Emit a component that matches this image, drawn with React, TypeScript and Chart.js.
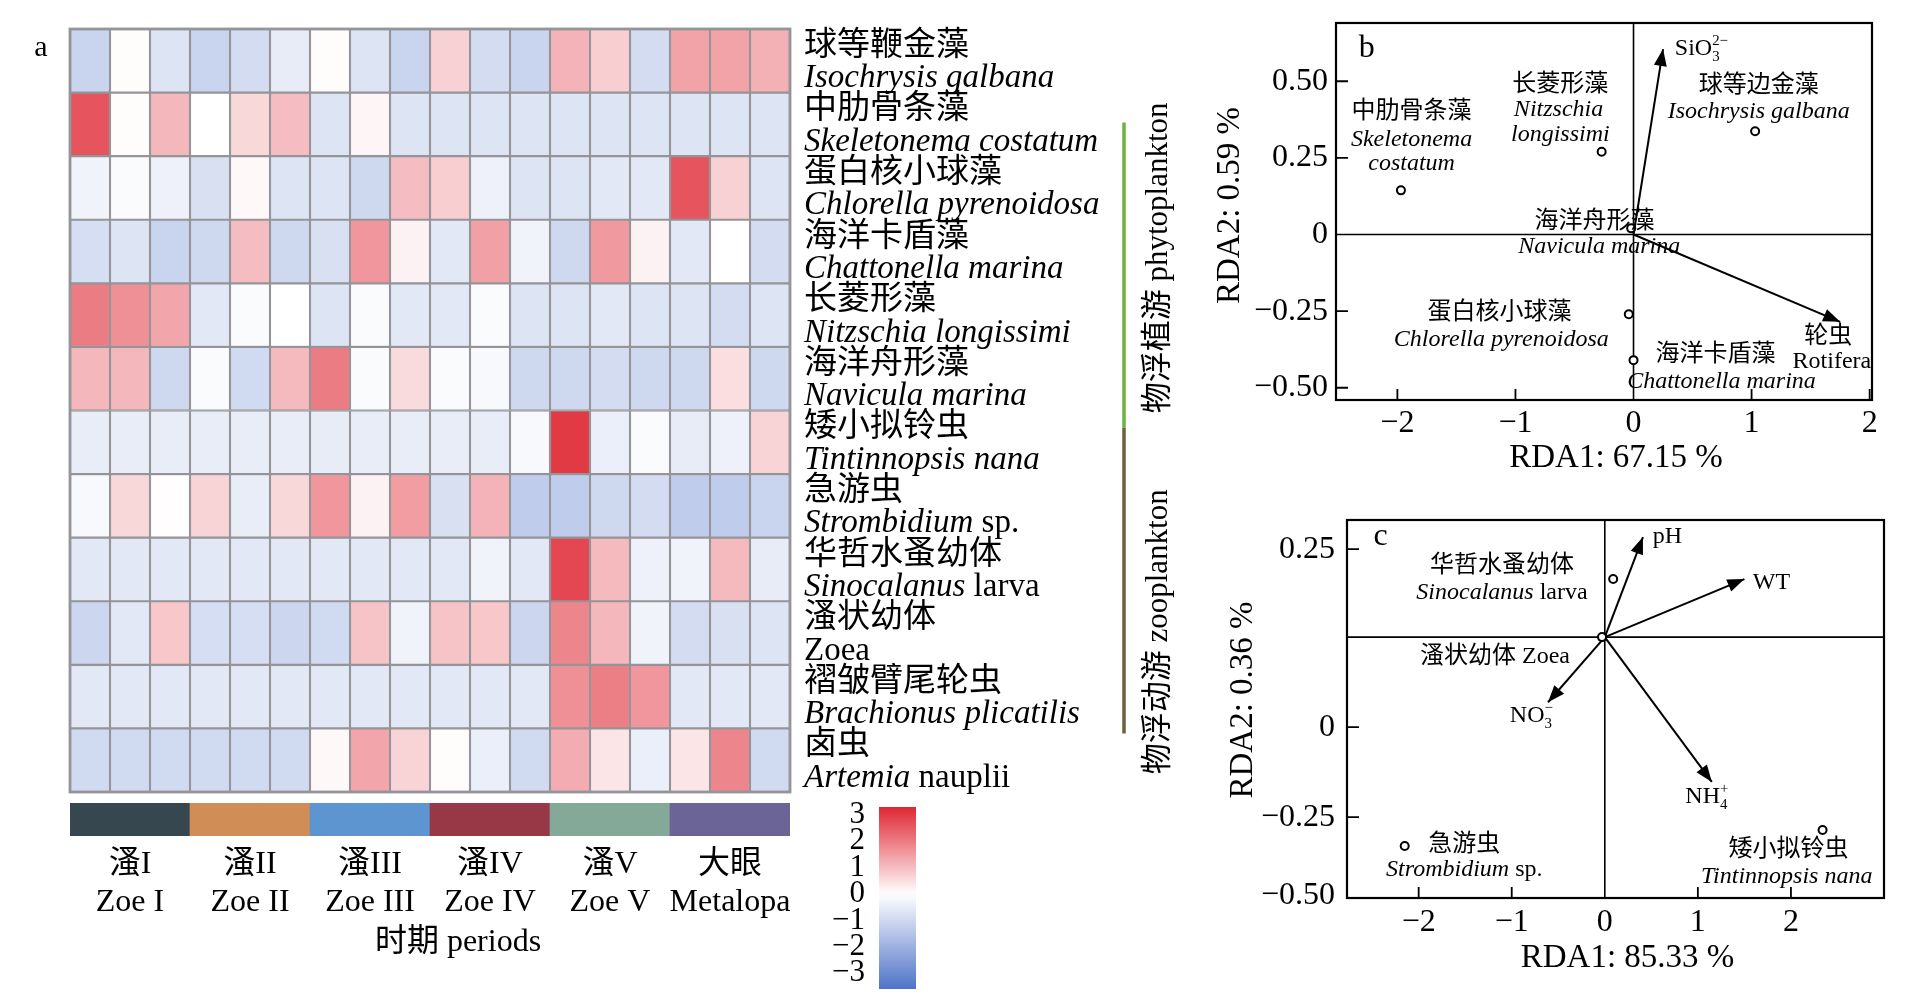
import React, { useEffect, useRef } from "react";
import { Chart, registerables } from "chart.js";

Chart.register(...registerables);

type Seg = [string, boolean]; // [text, italic]

const SERIF = '"Liberation Serif", "Noto Sans CJK SC", serif';

// ---------------- panel a : heatmap ----------------
const periodsCn = ["溞I", "溞II", "溞III", "溞IV", "溞V", "大眼"];
const periodsEn = ["Zoe I", "Zoe II", "Zoe III", "Zoe IV", "Zoe V", "Metalopa"];
const replicates = ["1", "2", "3"];
const periodColors = ["#37474f", "#d18d56", "#5d95d0", "#983846", "#85a998", "#6b6496"];
const periodAxisTitle = "时期 periods";

const speciesCn = [
  "球等鞭金藻", "中肋骨条藻", "蛋白核小球藻", "海洋卡盾藻", "长菱形藻", "海洋舟形藻",
  "矮小拟铃虫", "急游虫", "华哲水蚤幼体", "溞状幼体", "褶皱臂尾轮虫", "卤虫",
];
const speciesLatin: Seg[][] = [
  [["Isochrysis galbana", true]],
  [["Skeletonema costatum", true]],
  [["Chlorella pyrenoidosa", true]],
  [["Chattonella marina", true]],
  [["Nitzschia longissimi", true]],
  [["Navicula marina", true]],
  [["Tintinnopsis nana", true]],
  [["Strombidium", true], [" sp.", false]],
  [["Sinocalanus", true], [" larva", false]],
  [["Zoea", false]],
  [["Brachionus plicatilis", true]],
  [["Artemia", true], [" nauplii", false]],
];
const groupLabels = ["物浮植游 phytoplankton", "物浮动游 zooplankton"];
const groupColors = ["#6cb33f", "#6e5f3e"];

// z-scores, 18 samples (6 periods x 3 replicates) per species
const zIsochrysis = [-1.1, 0.05, -0.7, -1.1, -0.9, -0.5, 0.05, -0.7, -1.1, 0.7, -0.9, -1.1, 1.15, 0.75, -0.9, 1.4, 1.4, 1.2];
const zSkeletonema = [2.6, 0.05, 1.1, 0.0, 0.6, 1.0, -0.7, 0.15, -0.7, -0.7, -0.7, -0.7, -0.7, -0.7, -0.7, -0.7, -0.7, -0.7];
const zChlorella = [-0.3, -0.1, -0.35, -0.8, 0.1, -0.7, -0.7, -1.0, 1.0, 0.75, -0.35, -0.7, -0.7, -0.6, -0.6, 2.6, 0.7, -0.7];
const zChattonella = [-0.85, -0.7, -1.1, -1.0, 1.0, -1.0, -0.8, 1.6, 0.2, -0.6, 1.45, -0.3, -1.0, 1.55, 0.2, -0.6, 0.0, -0.9];
const zNitzschia = [2.0, 1.7, 1.35, -0.6, -0.1, 0.0, -0.7, -0.1, -0.6, -0.6, -0.1, -0.7, -0.7, -0.6, -0.7, -0.7, -0.9, -0.7];
const zNavicula = [1.1, 1.1, -1.0, -0.1, -0.95, 1.05, 2.0, -0.1, 0.55, -0.1, -0.15, -1.0, -1.0, -0.9, -1.0, -1.0, 0.5, -1.0];
const zTintinnopsis = [-0.45, -0.45, -0.45, -0.45, -0.45, -0.45, -0.5, -0.45, -0.45, -0.45, -0.45, -0.15, 3.0, -0.4, -0.1, -0.5, -0.35, 0.65];
const zStrombidium = [-0.15, 0.6, 0.03, 0.65, -0.45, 0.6, 1.6, 0.2, 1.5, -0.8, 1.15, -1.3, -1.3, -1.0, -0.9, -1.3, -1.3, -1.1];
const zSinocalanus = [-0.6, -0.6, -0.6, -0.6, -0.6, -0.6, -0.6, -0.6, -0.6, -0.6, -0.3, -0.6, 2.8, 1.05, -0.35, -0.3, 1.05, -0.5];
const zZoea = [-1.05, -0.6, 0.85, -0.85, -0.85, -1.05, -0.95, 0.9, -0.3, 0.9, 0.85, -1.05, 1.85, 1.1, -0.3, -0.9, -0.8, -0.7];
const zBrachionus = [-0.6, -0.6, -0.6, -0.6, -0.6, -0.6, -0.6, -0.6, -0.6, -0.6, -0.6, -0.6, 1.7, 1.95, 1.6, -0.6, -0.6, -0.6];
const zArtemia = [-0.95, -0.95, -0.95, -0.95, -0.95, -0.95, 0.1, 1.35, 0.65, 0.05, -0.4, -0.95, 1.25, 0.4, -0.4, 0.4, 1.85, -0.95];
const zRows = [zIsochrysis, zSkeletonema, zChlorella, zChattonella, zNitzschia, zNavicula,
  zTintinnopsis, zStrombidium, zSinocalanus, zZoea, zBrachionus, zArtemia];

const colorbarTicks = [3, 2, 1, 0, -1, -2, -3];
const colorbarRange = [-3.6, 3.3];

// ---------------- panel b : phytoplankton RDA ----------------
const bPointsX = [-1.97, -0.27, 1.03, -0.02, -0.04, 0.0];
const bPointsY = [0.144, 0.27, 0.337, 0.02, -0.26, -0.41];
const bArrowX = [0.25, 1.75];
const bArrowY = [0.605, -0.285];
const bXTicks = [-2, -1, 0, 1, 2];
const bYTicks = [0.5, 0.25, 0, -0.25, -0.5];
const bYTickLabels = ["0.50", "0.25", "0", "−0.25", "−0.50"];
const bXTitle = "RDA1: 67.15 %";
const bYTitle = "RDA2: 0.59 %";

// ---------------- panel c : zooplankton RDA ----------------
const cPointsX = [0.09, -0.03, -2.15, 2.34];
const cPointsY = [0.163, 0.0, -0.587, -0.542];
const cArrowX = [0.41, 1.5, -0.61, 1.15];
const cArrowY = [0.281, 0.163, -0.183, -0.407];
const cXTicks = [-2, -1, 0, 1, 2];
const cYTicks = [0.247, -0.253, -0.506, -0.725];
const cYTickLabels = ["0.25", "0", "−0.25", "−0.50"];
const cXTitle = "RDA1: 85.33 %";
const cYTitle = "RDA2: 0.36 %";

// ---------------- helpers ----------------
const font = (size: number, italic = false) => `${italic ? "italic " : ""}${size}px ${SERIF}`;

function heatColor(v: number, extend = false): string {
  const lo = extend ? colorbarRange[0] : -3;
  const hi = extend ? colorbarRange[1] : 3;
  const t = Math.max(lo, Math.min(hi, v)) / 3;
  let r: number, g: number, b: number;
  if (t >= 0) {
    r = 255 - t * (255 - 226); g = 255 - t * (255 - 58); b = 255 - t * (255 - 69);
  } else {
    const s = -t;
    r = 255 - s * (255 - 108); g = 255 - s * (255 - 138); b = 255 - s * (255 - 208);
  }
  const c = (n: number) => Math.round(Math.max(0, Math.min(255, n)));
  return `rgb(${c(r)},${c(g)},${c(b)})`;
}

function drawSegs(ctx: CanvasRenderingContext2D, segs: Seg[], x: number, y: number, size: number,
  align: "left" | "center" | "right" = "center") {
  ctx.textBaseline = "middle";
  ctx.textAlign = "left";
  const widths = segs.map(([t, it]) => { ctx.font = font(size, it); return ctx.measureText(t).width; });
  const total = widths.reduce((s, w) => s + w, 0);
  let cx = align === "center" ? x - total / 2 : align === "right" ? x - total : x;
  segs.forEach(([t, it], i) => { ctx.font = font(size, it); ctx.fillText(t, cx, y); cx += widths[i]; });
}

function drawChem(ctx: CanvasRenderingContext2D, base: string, sub: string, sup: string,
  x: number, y: number, size: number) {
  ctx.textBaseline = "middle";
  ctx.textAlign = "left";
  ctx.font = font(size);
  ctx.fillText(base, x, y);
  const w = ctx.measureText(base).width;
  ctx.font = font(size * 0.62);
  ctx.fillText(sup, x + w, y - size * 0.33);
  ctx.fillText(sub, x + w, y + size * 0.33);
}

function drawRotated(ctx: CanvasRenderingContext2D, text: string, x: number, y: number, size: number) {
  ctx.save();
  ctx.translate(x, y);
  ctx.rotate(-Math.PI / 2);
  drawSegs(ctx, [[text, false]], 0, 0, size, "center");
  ctx.restore();
}

const baseOptions = (padding: any) => ({
  animation: false,
  responsive: false,
  events: [],
  layout: { padding },
  plugins: { legend: { display: false }, tooltip: { enabled: false } },
});

// ---------------- chart configs ----------------
const sampleLabels = periodsEn.flatMap((p) => replicates.map((r) => `${p}-${r}`));

const heatPlugin = {
  id: "heatLabels",
  afterDatasetsDraw(chart: any) {
    const { ctx, chartArea: a, scales: { y } } = chart;
    ctx.save();
    ctx.strokeStyle = "#959599";
    ctx.lineWidth = 2.8;
    ctx.strokeRect(a.left, a.top, a.right - a.left, a.bottom - a.top);
    ctx.fillStyle = "#000";
    speciesCn.forEach((cn, r) => {
      drawSegs(ctx, [[cn, false]], a.right + 14, y.getPixelForValue(r + 0.27), 33, "left");
      drawSegs(ctx, speciesLatin[r], a.right + 14, y.getPixelForValue(r + 0.78), 33, "left");
    });
    // group brackets
    const lx = a.right + 334;
    const spans = [[1.47, 6.27], [6.27, 11.08]];
    const centers = [3.6, 9.48];
    spans.forEach(([f, t], i) => {
      ctx.strokeStyle = groupColors[i];
      ctx.lineWidth = 3.5;
      ctx.beginPath();
      ctx.moveTo(lx, y.getPixelForValue(f));
      ctx.lineTo(lx, y.getPixelForValue(t));
      ctx.stroke();
      ctx.fillStyle = "#000";
      drawRotated(ctx, groupLabels[i], a.right + 369, y.getPixelForValue(centers[i]), 31);
    });
    ctx.fillStyle = "#000";
    drawSegs(ctx, [["a", false]], a.left - 29, a.top + 19, 30, "center");
    ctx.restore();
  },
};

const heatConfig = () => ({
  type: "bar",
  data: {
    labels: sampleLabels,
    datasets: zRows.map((row, r) => ({
      label: speciesCn[r],
      data: row.map(() => [r, r + 1]),
      backgroundColor: row.map((v) => heatColor(v)),
      borderColor: "#959599",
      borderWidth: 1.4,
      borderSkipped: false,
      grouped: false,
      categoryPercentage: 1,
      barPercentage: 1,
    })),
  },
  options: {
    ...baseOptions({ left: 70, top: 29, right: 410, bottom: 8 }),
    scales: {
      x: { display: false },
      y: { display: false, min: 0, max: speciesCn.length, reverse: true },
    },
  },
  plugins: [heatPlugin],
});

const periodPlugin = {
  id: "periodLabels",
  afterDatasetsDraw(chart: any) {
    const { ctx, chartArea: a, scales: { x } } = chart;
    ctx.save();
    ctx.fillStyle = "#000";
    periodsCn.forEach((cn, i) => {
      const px = x.getPixelForValue(i);
      drawSegs(ctx, [[cn, false]], px, a.bottom + 29, 32);
      drawSegs(ctx, [[periodsEn[i], false]], px, a.bottom + 67, 32);
    });
    drawSegs(ctx, [[periodAxisTitle, false]], (a.left + a.right) / 2 + 28, a.bottom + 107, 32);
    ctx.restore();
  },
};

const periodConfig = () => ({
  type: "bar",
  data: {
    labels: periodsEn,
    datasets: [{
      data: periodsEn.map(() => [0, 1]),
      backgroundColor: periodColors,
      borderWidth: 0,
      categoryPercentage: 1,
      barPercentage: 1,
    }],
  },
  options: {
    ...baseOptions({ left: 70, top: 3, right: 210, bottom: 134 }),
    scales: { x: { display: false }, y: { display: false, min: 0, max: 1 } },
  },
  plugins: [periodPlugin],
});

const colorbarPlugin = {
  id: "colorbarLabels",
  afterDatasetsDraw(chart: any) {
    const { ctx, chartArea: a, scales: { y } } = chart;
    ctx.save();
    ctx.fillStyle = "#000";
    colorbarTicks.forEach((v) => {
      const lab = v < 0 ? `−${Math.abs(v)}` : `${v}`;
      drawSegs(ctx, [[lab, false]], a.left - 14, y.getPixelForValue(v), 31, "right");
    });
    ctx.restore();
  },
};

const colorbarConfig = () => ({
  type: "bar",
  data: {
    labels: ["z"],
    datasets: [{
      data: [colorbarRange],
      backgroundColor: (c: any) => {
        const chart = c.chart;
        const a = chart.chartArea;
        if (!a) return "#fff";
        const g = chart.ctx.createLinearGradient(0, a.bottom, 0, a.top);
        const [lo, hi] = colorbarRange;
        for (let i = 0; i <= 30; i++) g.addColorStop(i / 30, heatColor(lo + ((hi - lo) * i) / 30, true));
        return g;
      },
      borderWidth: 0,
      categoryPercentage: 1,
      barPercentage: 1,
    }],
  },
  options: {
    ...baseOptions({ left: 59, top: 17, right: 34, bottom: 11 }),
    scales: { x: { display: false }, y: { display: false, min: colorbarRange[0], max: colorbarRange[1] } },
  },
  plugins: [colorbarPlugin],
});

// ---------------- RDA ----------------
type Note = { x: number; y: number; segs: Seg[]; size?: number; align?: "left" | "center" | "right" };
type Chem = { x: number; y: number; base: string; sub: string; sup: string };

const bNotes: Note[] = [
  { x: -2.26, y: 0.605, segs: [["b", false]], size: 32 },
  { x: -1.88, y: 0.4, segs: [["中肋骨条藻", false]] },
  { x: -1.88, y: 0.31, segs: [["Skeletonema", true]] },
  { x: -1.88, y: 0.232, segs: [["costatum", true]] },
  { x: -0.62, y: 0.49, segs: [["长菱形藻", false]] },
  { x: -0.635, y: 0.408, segs: [["Nitzschia", true]] },
  { x: -0.62, y: 0.327, segs: [["longissimi", true]] },
  { x: 1.06, y: 0.484, segs: [["球等边金藻", false]] },
  { x: 1.06, y: 0.4, segs: [["Isochrysis galbana", true]] },
  { x: -0.33, y: 0.042, segs: [["海洋舟形藻", false]] },
  { x: -0.29, y: -0.04, segs: [["Navicula marina", true]] },
  { x: -1.135, y: -0.255, segs: [["蛋白核小球藻", false]] },
  { x: -1.12, y: -0.343, segs: [["Chlorella pyrenoidosa", true]] },
  { x: 0.695, y: -0.392, segs: [["海洋卡盾藻", false]] },
  { x: 0.745, y: -0.48, segs: [["Chattonella marina", true]] },
  { x: 1.65, y: -0.333, segs: [["轮虫", false]] },
  { x: 1.68, y: -0.415, segs: [["Rotifera", false]] },
];
const bChems: Chem[] = [{ x: 0.35, y: 0.605, base: "SiO", sub: "3", sup: "2−" }];

const cNotes: Note[] = [
  { x: -2.41, y: 0.281, segs: [["c", false]], size: 32 },
  { x: 0.515, y: 0.281, segs: [["pH", false]], align: "left" },
  { x: 1.59, y: 0.152, segs: [["WT", false]], align: "left" },
  { x: -1.105, y: 0.202, segs: [["华哲水蚤幼体", false]] },
  { x: -1.105, y: 0.126, segs: [["Sinocalanus", true], [" larva", false]] },
  { x: -1.18, y: -0.056, segs: [["溞状幼体 Zoea", false]] },
  { x: -1.51, y: -0.584, segs: [["急游虫", false]] },
  { x: -1.51, y: -0.654, segs: [["Strombidium", true], [" sp.", false]] },
  { x: 1.975, y: -0.598, segs: [["矮小拟铃虫", false]] },
  { x: 1.955, y: -0.674, segs: [["Tintinnopsis nana", true]] },
];
const cChems: Chem[] = [
  { x: -1.02, y: -0.222, base: "NO", sub: "3", sup: "−" },
  { x: 0.865, y: -0.449, base: "NH", sub: "4", sup: "+" },
];

type Rda = {
  id: string; px: number[]; py: number[]; ax: number[]; ay: number[];
  xTicks: number[]; yTicks: number[]; yLabels: string[]; xTitle: string; yTitle: string;
  xMin: number; xMax: number; yMin: number; yMax: number;
  notes: Note[]; chems: Chem[]; padding: any;
  gaps: { yLab: number; xLab: number; xTitle: number; yTitle: number; yShift: number };
};

function rdaPlugin(p: Rda) {
  return {
    id: "rda" + p.id,
    beforeDatasetsDraw(chart: any) {
      const { ctx, chartArea: a, scales: { x, y } } = chart;
      ctx.save();
      ctx.strokeStyle = "#000";
      ctx.lineWidth = 1.6;
      const x0 = x.getPixelForValue(0);
      const y0 = y.getPixelForValue(0);
      ctx.beginPath();
      ctx.moveTo(x0, a.top); ctx.lineTo(x0, a.bottom);
      ctx.moveTo(a.left, y0); ctx.lineTo(a.right, y0);
      ctx.stroke();
      ctx.restore();
    },
    afterDatasetsDraw(chart: any) {
      const { ctx, chartArea: a, scales: { x, y } } = chart;
      ctx.save();
      ctx.strokeStyle = "#000";
      ctx.fillStyle = "#000";
      ctx.lineWidth = 2.2;
      ctx.strokeRect(a.left, a.top, a.right - a.left, a.bottom - a.top);
      // inward ticks
      ctx.lineWidth = 1.8;
      ctx.beginPath();
      p.xTicks.forEach((v) => {
        if (v === 0) return;
        const px = x.getPixelForValue(v);
        ctx.moveTo(px, a.bottom); ctx.lineTo(px, a.bottom - 11);
      });
      p.yTicks.forEach((v) => {
        const py = y.getPixelForValue(v);
        if (Math.abs(py - a.bottom) < 7 || Math.abs(py - y.getPixelForValue(0)) < 1) return;
        ctx.moveTo(a.left, py); ctx.lineTo(a.left + 12, py);
      });
      ctx.stroke();
      // tick labels
      p.xTicks.forEach((v) => {
        const lab = v < 0 ? `−${Math.abs(v)}` : `${v}`;
        drawSegs(ctx, [[lab, false]], x.getPixelForValue(v), a.bottom + p.gaps.xLab, 32);
      });
      p.yTicks.forEach((v, i) => {
        drawSegs(ctx, [[p.yLabels[i], false]], a.left - p.gaps.yLab, y.getPixelForValue(v), 32, "right");
      });
      // titles
      drawSegs(ctx, [[p.xTitle, false]], (a.left + a.right) / 2 + 12, a.bottom + p.gaps.xTitle, 33);
      drawRotated(ctx, p.yTitle, a.left - p.gaps.yTitle, (a.top + a.bottom) / 2 + p.gaps.yShift, 33);
      // arrow heads
      const ox = x.getPixelForValue(0);
      const oy = y.getPixelForValue(0);
      p.ax.forEach((vx, i) => {
        const tx = x.getPixelForValue(vx);
        const ty = y.getPixelForValue(p.ay[i]);
        const ang = Math.atan2(ty - oy, tx - ox);
        const L = 17, W = 6.5;
        const bx = tx - L * Math.cos(ang), by = ty - L * Math.sin(ang);
        ctx.beginPath();
        ctx.moveTo(tx, ty);
        ctx.lineTo(bx + W * Math.sin(ang), by - W * Math.cos(ang));
        ctx.lineTo(bx - W * Math.sin(ang), by + W * Math.cos(ang));
        ctx.closePath();
        ctx.fill();
      });
      // annotations
      p.notes.forEach((n) => {
        drawSegs(ctx, n.segs, x.getPixelForValue(n.x), y.getPixelForValue(n.y), n.size ?? 24, n.align ?? "center");
      });
      p.chems.forEach((c) => {
        drawChem(ctx, c.base, c.sub, c.sup, x.getPixelForValue(c.x), y.getPixelForValue(c.y), 24);
      });
      ctx.restore();
    },
  };
}

const rdaConfig = (p: Rda) => () => ({
  type: "scatter",
  data: {
    datasets: [
      {
        data: p.px.map((vx, i) => ({ x: vx, y: p.py[i] })),
        pointRadius: 4,
        pointBorderWidth: 2,
        pointBackgroundColor: "#fff",
        pointBorderColor: "#000",
        order: 0,
      },
      ...p.ax.map((vx, i) => ({
        data: [{ x: 0, y: 0 }, { x: vx, y: p.ay[i] }],
        showLine: true,
        borderColor: "#000",
        borderWidth: 2,
        pointRadius: 0,
        fill: false,
        order: 1,
      })),
    ],
  },
  options: {
    ...baseOptions(p.padding),
    scales: {
      x: { type: "linear", display: false, min: p.xMin, max: p.xMax },
      y: { type: "linear", display: false, min: p.yMin, max: p.yMax },
    },
  },
  plugins: [rdaPlugin(p)],
});

const panelB: Rda = {
  id: "b", px: bPointsX, py: bPointsY, ax: bArrowX, ay: bArrowY,
  xTicks: bXTicks, yTicks: bYTicks, yLabels: bYTickLabels, xTitle: bXTitle, yTitle: bYTitle,
  xMin: -2.52, xMax: 2.02, yMin: -0.54, yMax: 0.69,
  notes: bNotes, chems: bChems,
  padding: { left: 146, right: 45, top: 23, bottom: 100 },
  gaps: { yLab: 8, xLab: 24, xTitle: 58, yTitle: 106, yShift: -6 },
};

const panelC: Rda = {
  id: "c", px: cPointsX, py: cPointsY, ax: cArrowX, ay: cArrowY,
  xTicks: cXTicks, yTicks: cYTicks, yLabels: cYTickLabels, xTitle: cXTitle, yTitle: cYTitle,
  xMin: -2.77, xMax: 3.0, yMin: -0.733, yMax: 0.329,
  notes: cNotes, chems: cChems,
  padding: { left: 157, right: 33, top: 20, bottom: 109 },
  gaps: { yLab: 12, xLab: 25, xTitle: 60, yTitle: 104, yShift: -9 },
};

// ---------------- components ----------------
function ChartBox({ left, top, width, height, make }: { left: number; top: number; width: number; height: number; make: () => any }) {
  const ref = useRef<HTMLCanvasElement>(null);
  useEffect(() => {
    if (!ref.current) return;
    const chart = new Chart(ref.current, make());
    return () => chart.destroy();
  }, []);
  return (
    <canvas
      ref={ref}
      width={width}
      height={height}
      style={{ position: "absolute", left, top, width, height, display: "block" }}
    />
  );
}

export default function App() {
  return (
    <div style={{ position: "relative", width: 1917, height: 1007, background: "#fff", overflow: "hidden" }}>
      <style>{"body{margin:0;background:#fff}"}</style>
      <ChartBox left={0} top={0} width={1200} height={800} make={heatConfig} />
      <ChartBox left={0} top={800} width={1000} height={170} make={periodConfig} />
      <ChartBox left={820} top={790} width={130} height={210} make={colorbarConfig} />
      <ChartBox left={1190} top={0} width={727} height={500} make={rdaConfig(panelB)} />
      <ChartBox left={1190} top={500} width={727} height={507} make={rdaConfig(panelC)} />
    </div>
  );
}
